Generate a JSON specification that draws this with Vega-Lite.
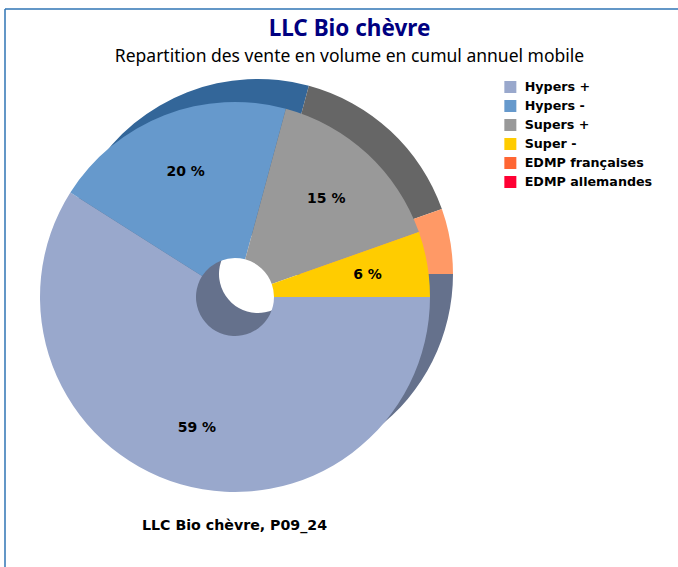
{
"$schema":"https://vega.github.io/schema/vega-lite/v6.json",
"width":673,"height":558,
"autosize":{"type":"none"},
"padding":{"left":5,"top":9,"right":0,"bottom":0},
"background":"white",
"view":{"stroke":null},
"title":{"text":"LLC Bio chèvre","subtitle":"Repartition des vente en volume en cumul annuel mobile","anchor":"middle","frame":"group","orient":"top","offset":-57,"dx":8,"font":"Noto Sans","fontSize":22.5,"fontWeight":"bold","color":"#000080","subtitleFont":"Noto Sans","subtitleFontSize":17.5,"subtitleColor":"#000000","subtitlePadding":7},
"data":{"values":[
{"category":"Hypers +","rank":1,"value":59.0,"label":"59 %"},
{"category":"Hypers -","rank":2,"value":20.2,"label":"20 %"},
{"category":"Supers +","rank":3,"value":15.4,"label":"15 %"},
{"category":"Super -","rank":4,"value":5.4,"label":"6 %"},
{"category":"EDMP françaises","rank":5,"value":0,"label":""},
{"category":"EDMP allemandes","rank":6,"value":0,"label":""}
]},
"encoding":{
"theta":{"field":"value","type":"quantitative","stack":true,"scale":{"domain":[0,100],"range":[1.5708,7.854]}},
"order":{"field":"rank","type":"ordinal"}
},
"layer":[
{"data":{"values":[{"frame":"left"}]},"mark":{"type":"rule","color":"#2f75b5","strokeWidth":1.5},
"encoding":{"x":{"value":0},"theta":null,"order":null}},
{"data":{"values":[{"frame":"top"}]},"mark":{"type":"rule","color":"#2f75b5","strokeWidth":1.5},
"encoding":{"y":{"value":0},"theta":null,"order":null}},
{"mark":{"type":"arc","outerRadius":195,"innerRadius":39,"xOffset":-83.5,"yOffset":-14},
"encoding":{"color":{"field":"category","type":"nominal","legend":null,"scale":{"domain":["Hypers +","Hypers -","Supers +","Super -","EDMP françaises","EDMP allemandes"],"range":["#65718c","#336699","#666666","#ff9966","#ff6633","#ff0033"]}}}},
{"mark":{"type":"arc","outerRadius":195,"innerRadius":39,"xOffset":-106.5,"yOffset":9},
"encoding":{"color":{"field":"category","type":"nominal","scale":{"domain":["Hypers +","Hypers -","Supers +","Super -","EDMP françaises","EDMP allemandes"],"range":["#99a8cc","#6699cc","#999999","#ffcc00","#ff6633","#ff0033"]},
"legend":{"title":null,"orient":"none","legendX":499,"legendY":70,"symbolType":"square","symbolSize":144,"symbolStrokeWidth":0,"symbolOpacity":1,"labelFont":"DejaVu Sans","labelFontSize":12.7,"labelFontWeight":"bold","labelColor":"#000000","rowPadding":3,"labelOffset":8,"clipHeight":16}}}},
{"mark":{"type":"text","radius":135,"xOffset":-107,"yOffset":10,"font":"DejaVu Sans","fontSize":14,"fontWeight":"bold","color":"#000000"},
"encoding":{"text":{"field":"label","type":"nominal"}}},
{"data":{"values":[{"note":"LLC Bio chèvre, P09_24"}]},
"mark":{"type":"text","xOffset":-107,"yOffset":238,"font":"DejaVu Sans","fontSize":14.2,"fontWeight":"bold","color":"#000000"},
"encoding":{"text":{"field":"note","type":"nominal"},"theta":null,"order":null}}
],
"resolve":{"scale":{"color":"independent"}}
}
